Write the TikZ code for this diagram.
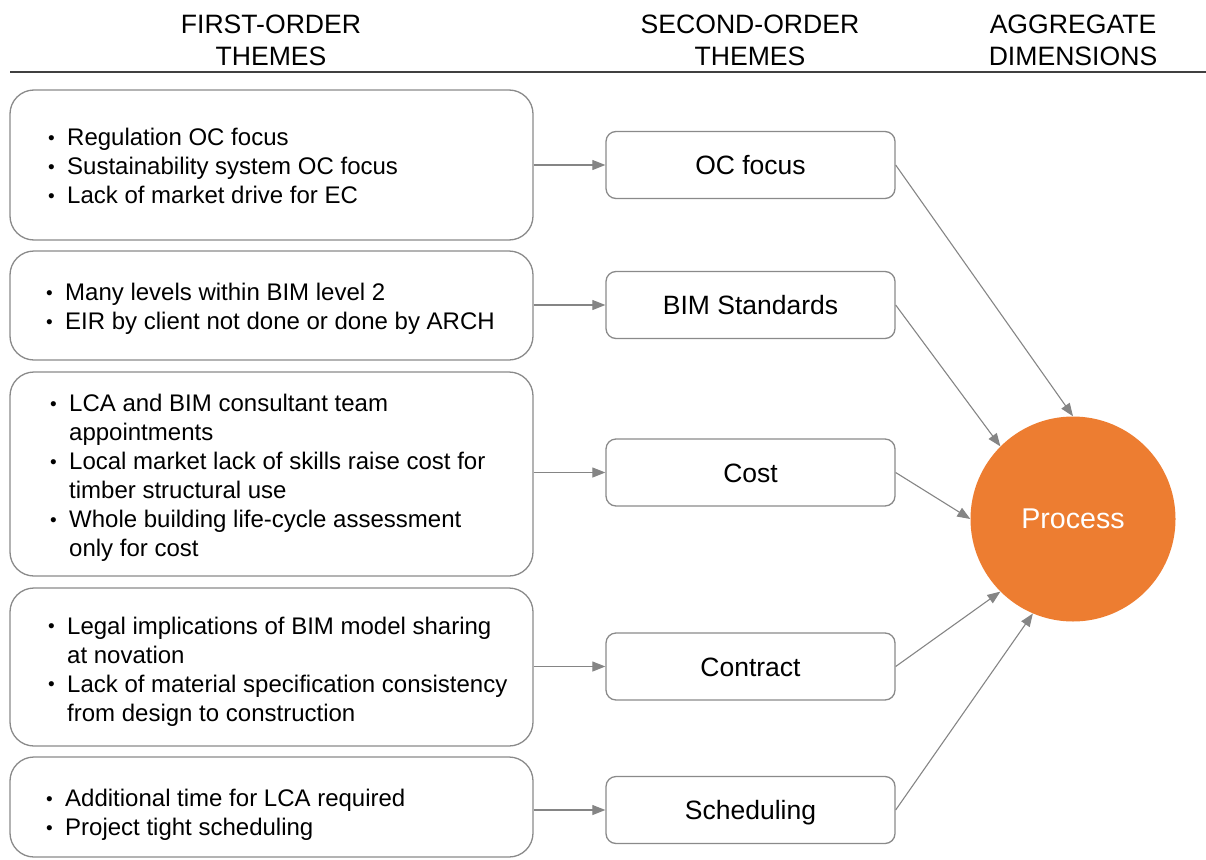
\documentclass[tikz,border=0pt]{standalone}
\usepackage{fontspec}
\setmainfont{Liberation Sans}
\usetikzlibrary{arrows.meta}
\definecolor{edge}{HTML}{8A8A8A}
\definecolor{arrowgray}{HTML}{858585}
\definecolor{rulegray}{HTML}{404040}
\definecolor{procorange}{HTML}{ED7D31}
\tikzset{
  heading/.style={align=center, font=\fontsize{26.6}{32}\selectfont, inner sep=0pt},
  firstbox/.style={draw=edge, line width=1.3pt, rounded corners=24pt, minimum width=523pt, inner sep=0pt},
  itemtext/.style={anchor=west, inner sep=0pt, font=\fontsize{24}{29}\selectfont},
  secondbox/.style={draw=edge, line width=1.3pt, rounded corners=10pt, minimum width=289pt, minimum height=67pt, inner sep=0pt, text height=25.2pt, text depth=6.2pt, font=\fontsize{26.5}{30}\selectfont},
  dimension/.style={circle, fill=procorange, minimum size=205pt, inner sep=0pt, text=white, font=\fontsize{28.6}{32}\selectfont},
  link/.style={draw=arrowgray, line width=1.1pt, -{Triangle[length=13pt,width=10pt]}},
}
\newcommand{\bul}{\makebox[19pt][l]{\raisebox{1.6pt}{\fontsize{19}{19}\selectfont\textbullet}}}
\newcommand{\cont}{\makebox[19pt][l]{}}
\begin{document}
\begin{tikzpicture}[x=1pt, y=-1pt]
\useasboundingbox (0,0) rectangle (1206,859);

% column headings
\node[heading] (h1) at (271,40.5) {FIRST-ORDER\\THEMES};
\node[heading] (h2) at (750,40.5) {SECOND-ORDER\\THEMES};
\node[heading] (h3) at (1073,40.5) {AGGREGATE\\DIMENSIONS};
\coordinate (ruleL) at (10,72);
\coordinate (ruleR) at (1206,72);
\draw[rulegray, line width=1.4pt] (ruleL) -- (ruleR);

% first-order theme boxes
\node[firstbox, minimum height=150pt] (f1) at (271.5,165) {};
\node[firstbox, minimum height=109pt] (f2) at (271.5,305.5) {};
\node[firstbox, minimum height=204pt] (f3) at (271.5,474) {};
\node[firstbox, minimum height=158pt] (f4) at (271.5,667) {};
\node[firstbox, minimum height=100pt] (f5) at (271.5,807) {};

\node[itemtext] (t1) at (48,169) {\begin{tabular}{@{}l@{}}
\bul Regulation OC focus\\
\bul Sustainability system OC focus\\
\bul Lack of market drive for EC\end{tabular}};
\node[itemtext] (t2) at (46,309.5) {\begin{tabular}{@{}l@{}}
\bul Many levels within BIM level 2\\
\bul EIR by client not done or done by ARCH\end{tabular}};
\node[itemtext] (t3) at (50,478.5) {\begin{tabular}{@{}l@{}}
\bul LCA and BIM consultant team\\
\cont appointments\\
\bul Local market lack of skills raise cost for\\
\cont timber structural use\\
\bul Whole building life-cycle assessment\\
\cont only for cost\end{tabular}};
\node[itemtext] (t4) at (48,672) {\begin{tabular}{@{}l@{}}
\bul Legal implications of BIM model sharing\\
\cont at novation\\
\bul Lack of material specification consistency\\
\cont from design to construction\end{tabular}};
\node[itemtext] (t5) at (46,815.5) {\begin{tabular}{@{}l@{}}
\bul Additional time for LCA required\\
\bul Project tight scheduling\end{tabular}};

% second-order theme boxes
\node[secondbox] (s1) at (750.5,165) {OC focus};
\node[secondbox] (s2) at (750.5,305) {BIM Standards};
\node[secondbox] (s3) at (750.5,472.5) {Cost};
\node[secondbox] (s4) at (750.5,666.5) {Contract};
\node[secondbox] (s5) at (750.5,810) {Scheduling};

% aggregate dimension
\node[dimension] (p) at (1073,519) {Process};

% first-order to second-order links
\draw[link] (f1.east |- s1.west) -- (s1.west);
\draw[link] (f2.east |- s2.west) -- (s2.west);
\draw[link] (f3.east |- s3.west) -- (s3.west);
\draw[link] (f4.east |- s4.west) -- (s4.west);
\draw[link] (f5.east |- s5.west) -- (s5.west);

% second-order to aggregate links
\draw[link] (s1.east) -- (p.90);
\draw[link] (s2.east) -- (p.135);
\draw[link] (s3.east) -- (p.180);
\draw[link] (s4.east) -- (p.225);
\draw[link] (s5.east) -- (p.247);
\end{tikzpicture}
\end{document}
